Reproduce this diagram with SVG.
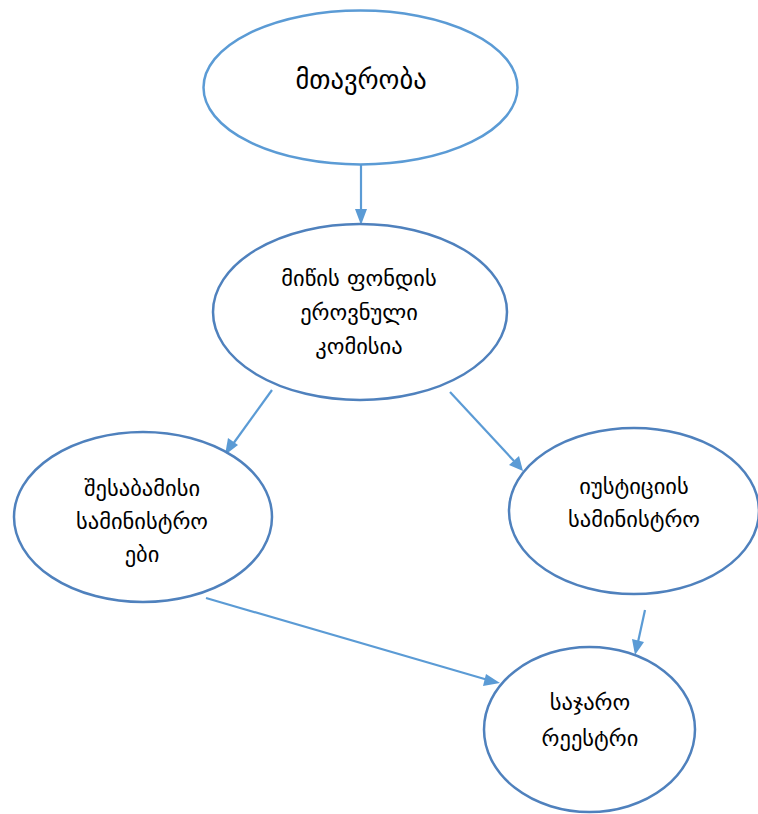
<svg xmlns="http://www.w3.org/2000/svg" width="758" height="814" viewBox="0 0 758 814">
<defs>
<style>
.n1{fill:#fff;stroke:#5B9BD5;stroke-width:2.5}
.n{fill:#fff;stroke:#4F81BD;stroke-width:2.5}
.t{font-family:"DejaVu Sans","Noto Sans",sans-serif;font-size:22.5px;fill:#000;text-anchor:middle;dominant-baseline:central}
.big{font-size:26.5px}
</style>
</defs>
<rect width="758" height="814" fill="#fff"/>
<g id="connectors">
<line x1="361" y1="157" x2="361" y2="212" stroke="#5B9BD5" stroke-width="2.2"/>
<path d="M355,209 L367,209 L361,225 Z" fill="#5B9BD5"/>
<line x1="272" y1="390" x2="233" y2="444" stroke="#5B9BD5" stroke-width="2.2"/>
<path d="M228,438 L238,445 L225,455 Z" fill="#5B9BD5"/>
<line x1="450" y1="392" x2="514" y2="461" stroke="#5B9BD5" stroke-width="2.2"/>
<path d="M509,465 L519,456 L523,471 Z" fill="#5B9BD5"/>
<line x1="206" y1="598" x2="488" y2="680" stroke="#5B9BD5" stroke-width="2.2"/>
<path d="M486,674 L483,686 L500,683 Z" fill="#5B9BD5"/>
<line x1="645" y1="610" x2="638" y2="642" stroke="#5B9BD5" stroke-width="2.2"/>
<path d="M632,639 L644,642 L635,655 Z" fill="#5B9BD5"/>
</g>
<g id="node-government">
<ellipse class="n1" cx="360.5" cy="87.5" rx="157" ry="77"/>
<text class="t big" x="361" y="79">მთავრობა</text>
</g>
<g id="node-commission">
<ellipse class="n" cx="360" cy="312" rx="147" ry="88"/>
<text class="t" x="359" y="278">მიწის ფონდის</text>
<text class="t" x="359" y="312">ეროვნული</text>
<text class="t" x="359" y="346">კომისია</text>
</g>
<g id="node-ministries">
<ellipse class="n" cx="143" cy="517" rx="129" ry="85"/>
<text class="t" x="142" y="488">შესაბამისი</text>
<text class="t" x="142" y="521">სამინისტრო</text>
<text class="t" x="142" y="554">ები</text>
</g>
<g id="node-justice">
<ellipse class="n" cx="634" cy="511" rx="125" ry="83"/>
<text class="t" x="634" y="486">იუსტიციის</text>
<text class="t" x="634" y="519">სამინისტრო</text>
</g>
<g id="node-registry">
<ellipse class="n" cx="589.5" cy="729.5" rx="105.5" ry="82.5"/>
<text class="t" x="590" y="702">საჯარო</text>
<text class="t" x="590" y="738">რეესტრი</text>
</g>
</svg>
